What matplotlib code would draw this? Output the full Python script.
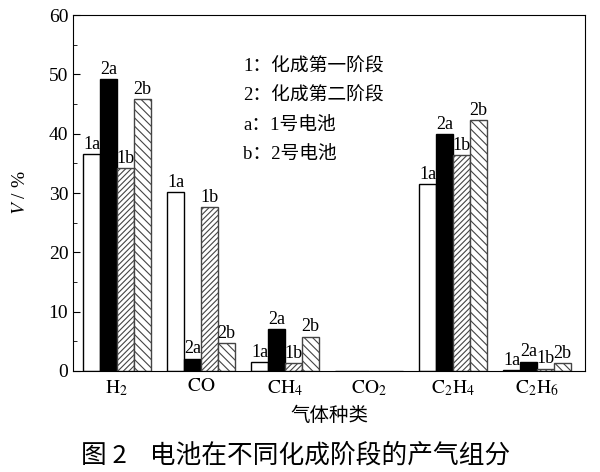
import numpy as np
import matplotlib
matplotlib.use("Agg")
import matplotlib.pyplot as plt

plt.rcParams['font.family'] = ['Liberation Serif', 'Noto Sans CJK SC', 'DejaVu Sans']
plt.rcParams['mathtext.fontset'] = 'stix'
plt.rcParams['hatch.linewidth'] = 0.8

# gases on the x axis
gases = [r'$\mathrm{H_2}$', r'$\mathrm{CO}$', r'$\mathrm{CH_4}$', r'$\mathrm{CO_2}$',
         r'$\mathrm{C_2H_4}$', r'$\mathrm{C_2H_6}$']
# series: stage 1/2, battery a/b
series_names = ['1a', '2a', '1b', '2b']
v_1a = [36.6, 30.2, 1.5, 0.0, 31.5, 0.2]
v_2a = [49.2, 2.1, 7.1, 0.0, 40.0, 1.6]
v_1b = [34.2, 27.6, 1.4, 0.0, 36.4, 0.4]
v_2b = [45.8, 4.7, 5.8, 0.0, 42.3, 1.3]
values = [v_1a, v_2a, v_1b, v_2b]

fig = plt.figure(figsize=(6, 4.72), dpi=100)
ax = fig.add_axes([0.122, 0.214, 0.853, 0.754])

x = np.arange(len(gases))
w = 0.2
styles = [
    dict(facecolor='white', edgecolor='black', hatch=None),
    dict(facecolor='black', edgecolor='black', hatch=None),
    dict(facecolor='white', edgecolor='#444444', hatch='//////'),
    dict(facecolor='white', edgecolor='#444444', hatch='\\\\\\\\'),
]
for i, (name, vals) in enumerate(zip(series_names, values)):
    pos = x + (i - 1.5) * w
    ax.bar(pos, vals, width=w, linewidth=1.0, **styles[i])
    for p, v in zip(pos, vals):
        if v > 0:
            ax.text(p, v + 0.2, name, ha='center', va='bottom', fontsize=13)

ax.set_xlim(-0.52, 5.57)
ax.set_ylim(0, 60)
ax.set_yticks(range(0, 61, 10))
ax.set_yticks(range(0, 61, 5), minor=True)
ax.tick_params(axis='y', direction='in', labelsize=14, length=5)
ax.tick_params(axis='y', which='minor', direction='in', length=3)
ax.set_xticks(x)
ax.set_xticklabels(gases, fontsize=14)
ax.tick_params(axis='x', length=0, pad=5)
ax.tick_params(right=False, top=False)

ax.set_ylabel(r'$V$ / %', fontsize=14, labelpad=14)
ax.set_xlabel('气体种类', fontsize=14, labelpad=5, family=['Noto Sans CJK SC'])

legend_lines = ['1：化成第一阶段', '2：化成第二阶段', 'a：1号电池', 'b：2号电池']
for k, t in enumerate(legend_lines):
    ax.text(0.332, 0.853 - k * 0.0815, t, transform=ax.transAxes, fontsize=13.5,
            va='center', ha='left')

fig.text(0.135, 0.035, '图 2    电池在不同化成阶段的产气组分', fontsize=18.5,
         family=['Noto Sans CJK SC'], ha='left', va='center')

fig.savefig('out.png', dpi=100)
